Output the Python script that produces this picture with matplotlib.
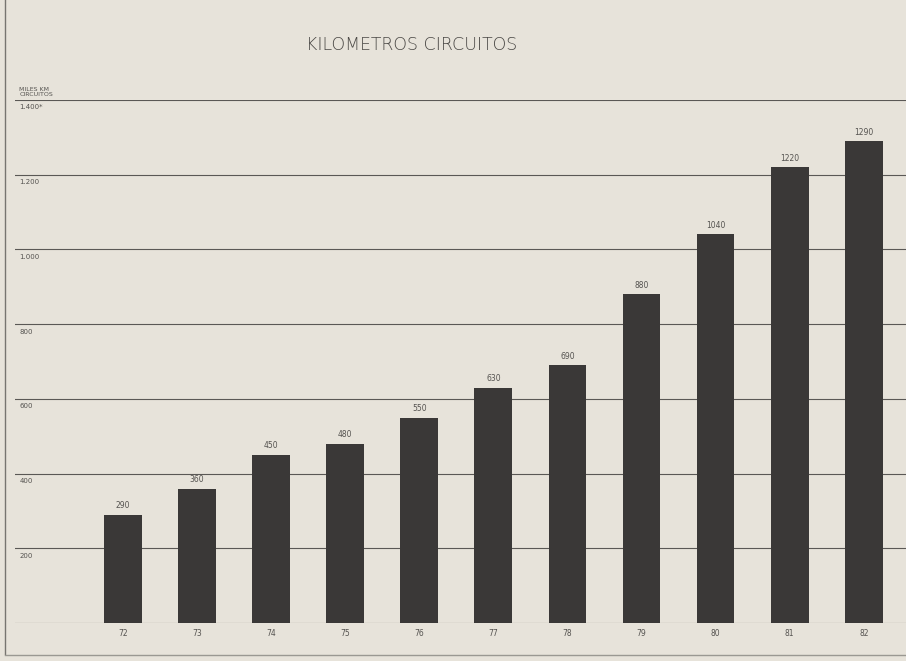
import matplotlib.pyplot as plt
from matplotlib.lines import Line2D

# data
years = ['72', '73', '74', '75', '76', '77', '78', '79', '80', '81', '82']
km = [290, 360, 450, 480, 550, 630, 690, 880, 1040, 1220, 1290]
ytick_vals = [200, 400, 600, 800, 1000, 1200, 1400]
ytick_labels = ['200', '400', '600', '800', '1.000', '1.200', '1.400*']

C_BG = '#e7e3da'
C_BAR = '#3a3837'
C_LINE = '#5a5855'
C_TEXT = '#555350'

plt.rcParams['font.family'] = ['DejaVu Sans']

fig = plt.figure(figsize=(9.06, 6.61), dpi=100, facecolor=C_BG)
W, H = 906, 661
ax = fig.add_axes([15 / W, (H - 623) / H, 1 - 15 / W, (623 - 100) / H])
ax.set_facecolor(C_BG)

x = list(range(len(years)))
ax.bar(x, km, width=0.51, color=C_BAR, zorder=3)

ax.set_xlim(-1.457, 10.57)
ax.set_ylim(0, 1400)

for s in ax.spines.values():
    s.set_visible(False)
ax.set_yticks([])
ax.set_xticks(x)
ax.set_xticklabels(years, fontsize=5.5, color=C_TEXT)
ax.tick_params(axis='x', length=0, pad=4)

# gridlines and baseline
for v in [0] + ytick_vals:
    ax.axhline(v, color=C_LINE, linewidth=0.8, zorder=1)

# y labels just below each line, at the left
for v, lab in zip(ytick_vals, ytick_labels):
    ax.text(-1.40, v - 12, lab, fontsize=5, color=C_TEXT, va='top', ha='left')
ax.text(-1.40, 1408, 'MILES KM\nCIRCUITOS', fontsize=4.5, color=C_TEXT,
        va='bottom', ha='left', linespacing=0.9)

# values over bars
for xi, v in zip(x, km):
    ax.text(xi, v + 12, str(v), fontsize=5.5, color=C_TEXT, ha='center', va='bottom')

fig.text(412 / W, 1 - 45 / H, 'KILOMETROS CIRCUITOS', fontsize=12.5, color='#4a4845',
         ha='center', va='center', fontweight='light')

# scan frame edges
fig.add_artist(Line2D([5 / W, 5 / W], [0.01, 1], color='#777570', linewidth=1))
fig.add_artist(Line2D([5 / W, 1], [1 - 655 / H, 1 - 655 / H], color='#9a9892', linewidth=1))

fig.savefig('out.png', dpi=100, facecolor=C_BG)
